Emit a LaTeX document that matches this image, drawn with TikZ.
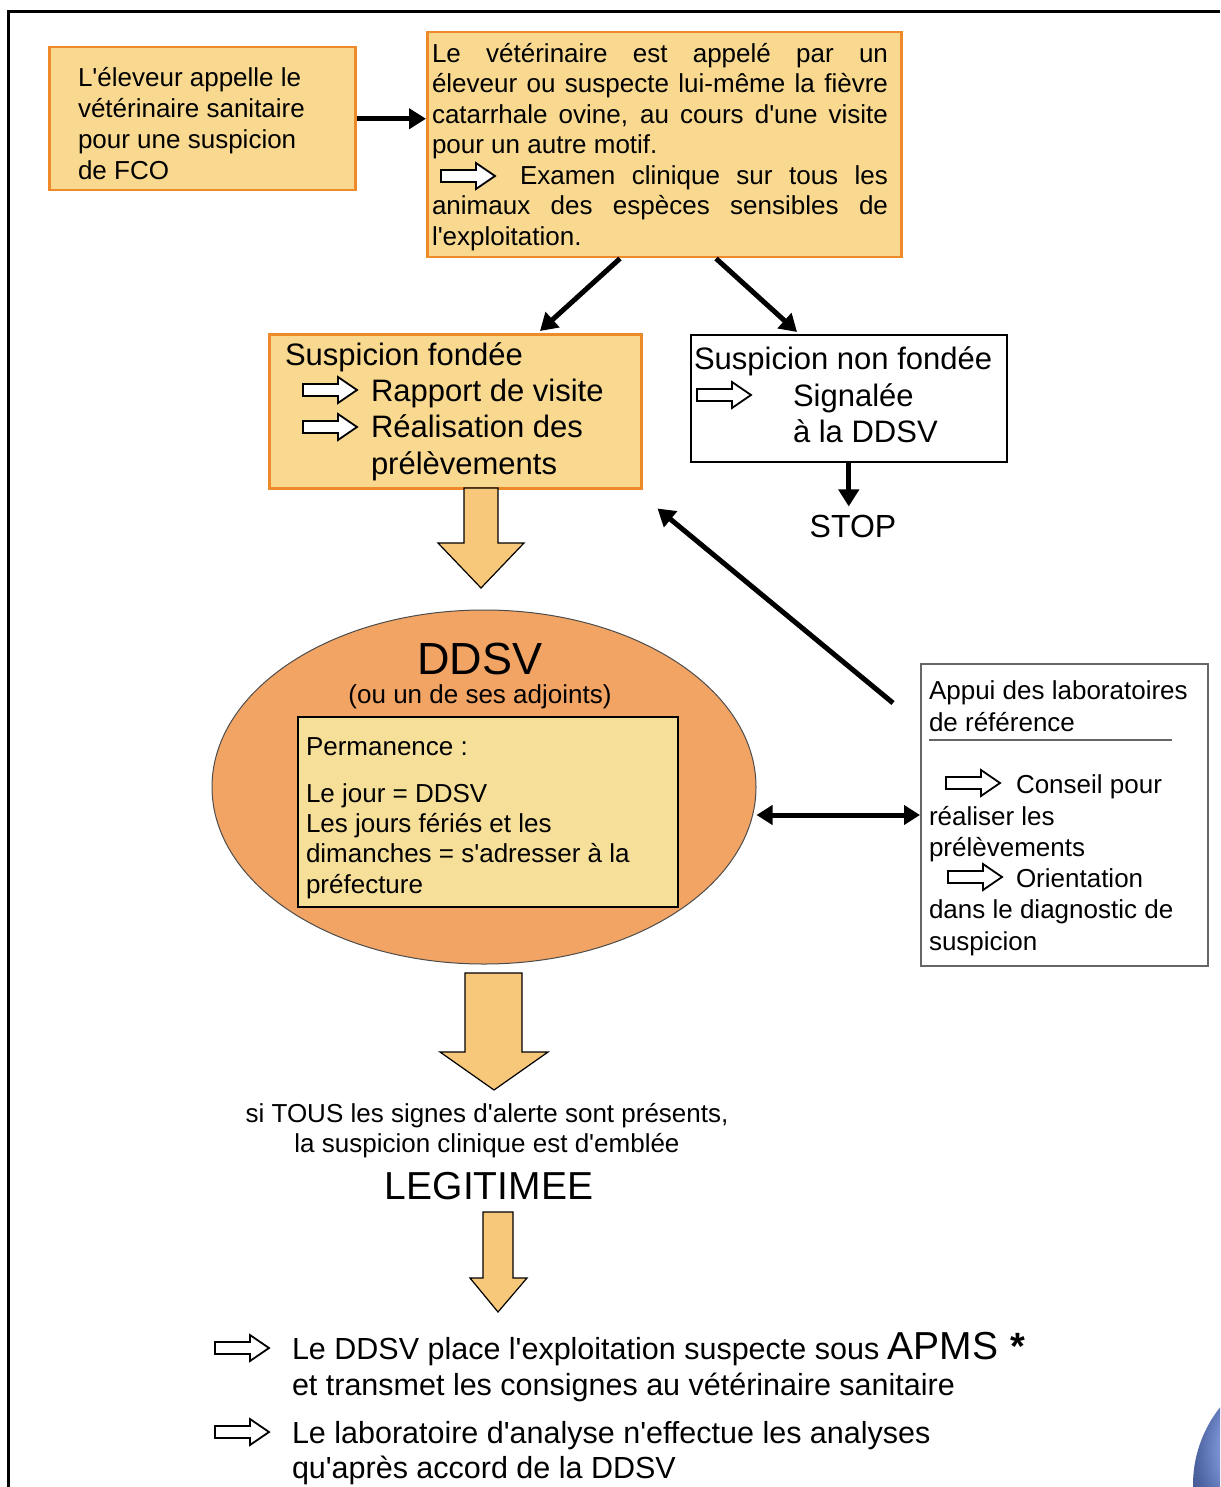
\documentclass[tikz,border=0pt]{standalone}
\usepackage{fontspec}
\setmainfont{Liberation Sans}[Ligatures=TeXOff]
\usetikzlibrary{arrows.meta,shapes.geometric}
\definecolor{boxfill}{HTML}{F9D98F}
\definecolor{boxline}{HTML}{EE8A2A}
\definecolor{ellfill}{HTML}{F2A465}
\definecolor{innerfill}{HTML}{F6DF98}
\definecolor{fatfill}{HTML}{F7C77A}
\definecolor{ballblue}{HTML}{6F8FE8}
\newcommand\setfs[2]{\fontsize{#1}{#2}\selectfont}
\tikzset{
  obox/.style={draw=boxline, line width=2.5pt, fill=boxfill, anchor=north west, inner sep=0pt},
  wbox/.style={draw=black, line width=1.5pt, fill=white, anchor=north west, inner sep=0pt},
  txt/.style={inner sep=0pt, outer sep=0pt, align=left, anchor=north west},
  blk/.style={line width=5pt, -{Triangle[length=17pt,width=20pt]}},
  dblk/.style={line width=5pt, {Triangle[length=16pt,width=19pt]}-{Triangle[length=16pt,width=19pt]}},
  fat/.style={draw=black, line width=1.2pt, fill=fatfill, line join=miter},
  harrow/.pic={\draw[line width=1.8pt, fill=white, line join=miter]
     (0,-6) -- (35,-6) -- (35,-13) -- (54,0) -- (35,13) -- (35,6) -- (0,6) -- cycle;}
}
\begin{document}
\begin{tikzpicture}[x=1pt,y=-1pt]
\useasboundingbox (0,0) rectangle (1220,1487);
% frame
\draw[line width=3pt] (8,1487) -- (8,12) -- (1220,12);
% blue decoration
\begin{scope}
\clip (0,0) rectangle (1220,1487);
\shade[ball color=ballblue] (1318,1485) circle (125);
\end{scope}

% Box A
\node[obox, minimum width=306pt, minimum height=143pt] (A) at (48,46) {};
\node[txt, font=\setfs{26}{31}] (At) at (78,67)
  {L'éleveur appelle le\\vétérinaire sanitaire\\pour une suspicion\\de FCO};

% Box B
\node[obox, minimum width=474pt, minimum height=225pt] (B) at (426,31) {};
\node[txt, font=\setfs{26}{30.5}] (Bt) at (432,43)
  {\makebox[456pt][s]{Le vétérinaire est appelé par un}\\
   \makebox[456pt][s]{éleveur ou suspecte lui-même la fièvre}\\
   \makebox[456pt][s]{catarrhale ovine, au cours d'une visite}\\
   pour un autre motif.\\
   \hspace*{88pt}\makebox[368pt][s]{Examen clinique sur tous les}\\
   \makebox[456pt][s]{animaux des espèces sensibles de}\\
   l'exploitation.};
\pic (hB) at (441,176) {harrow};

% Box C
\node[obox, minimum width=372pt, minimum height=154pt] (C) at (268,333) {};
\node[txt, font=\setfs{31}{36.5}] (Ct1) at (285,343) {Suspicion fondée};
\node[txt, font=\setfs{31}{36.5}] (Ct2) at (371,379)
  {Rapport de visite\\Réalisation des\\prélèvements};
\pic (hC1) at (303,390) {harrow};
\pic (hC2) at (303,427) {harrow};

% Box D
\node[wbox, minimum width=316pt, minimum height=127pt] (D) at (690,334) {};
\node[txt, font=\setfs{31}{36}] (Dt1) at (694,347) {Suspicion non fondée};
\node[txt, font=\setfs{31}{36}] (Dt2) at (793,384) {Signalée\\à la DDSV};
\pic (hD) at (697,395) {harrow};
\node[inner sep=0pt, font=\setfs{32}{36}] (stop) at (853,526) {STOP};

% Ellipse DDSV
\node[ellipse, draw=black!70, line width=1pt, fill=ellfill,
      minimum width=544pt, minimum height=354pt, inner sep=0pt] (E) at (484,787) {};
\node[inner sep=0pt, font=\setfs{45}{50}] (ddsv) at (480,659) {DDSV};
\node[inner sep=0pt, font=\setfs{26}{30}] (adj) at (480,697) {(ou un de ses adjoints)};
\node[draw=black, line width=1.5pt, fill=innerfill, anchor=north west, inner sep=0pt,
      minimum width=380pt, minimum height=190pt] (P) at (297,716) {};
\node[txt, font=\setfs{26}{30.3}] (Pt) at (306,738)
  {Permanence :\\[16pt]Le jour = DDSV\\Les jours fériés et les\\dimanches = s'adresser à la\\préfecture};

% Lab box
\node[draw=black!60, line width=2pt, fill=white, anchor=north west, inner sep=0pt,
      minimum width=287pt, minimum height=302pt] (L) at (920,663) {};
\node[txt, font=\setfs{26}{31.3}] (Lt) at (929,681)
  {Appui des laboratoires\\de référence\\[31.3pt]
   \hspace*{87pt}Conseil pour\\réaliser les\\prélèvements\\
   \hspace*{87pt}Orientation\\dans le diagnostic de\\suspicion};
\draw[black!60, line width=1.5pt] ([xshift=9pt,yshift=-77pt]L.north west) -- ++(243,0);
\pic (hL1) at (946,783) {harrow};
\pic (hL2) at (948,877) {harrow};

% Lower texts
\node[inner sep=0pt, align=center, anchor=north, font=\setfs{26}{30}] (si) at (487,1103)
  {si TOUS les signes d'alerte sont présents,\\la suspicion clinique est d'emblée};
\node[inner sep=0pt, font=\setfs{39}{44}] (leg) at (489,1186) {LEGITIMEE};

\node[txt, font=\setfs{30.5}{36}] (b1) at (292,1332)
  {Le DDSV place l'exploitation suspecte sous {\setfs{39}{39}APMS} \hspace{4pt}{\setfs{38}{38}\bfseries *}\\
   et transmet les consignes au vétérinaire sanitaire};
\node[txt, font=\setfs{30.5}{35}] (b2) at (292,1421)
  {Le laboratoire d'analyse n'effectue les analyses\\qu'après accord de la DDSV};
\pic (hb1) at (215,1348) {harrow};
\pic (hb2) at (215,1432) {harrow};

% fat arrows
\draw[fat] (464,488) -- (498,488) -- (498,543) -- (524,543) -- (481,588) -- (438,543) -- (464,543) -- cycle;
\draw[fat] (465,973) -- (522,973) -- (522,1052) -- (548,1052) -- (494,1090) -- (440,1052) -- (465,1052) -- cycle;
\draw[fat] (483,1212) -- (513,1212) -- (513,1278) -- (527,1278) -- (498,1312) -- (470,1278) -- (483,1278) -- cycle;

% black connectors
\draw[blk] (A.east) -- (A.east -| B.west);
\draw[blk] ([xshift=194pt]B.south west) -- ([xshift=272pt,yshift=2pt]C.north west);
\draw[blk] ([xshift=290pt]B.south west) -- ([xshift=107pt,yshift=2pt]D.north west);
\draw[blk, shorten >=8pt] (D.south) -- (D.south |- stop.north);
\draw[blk] ([xshift=-27pt,yshift=-40pt]L.north west) -- ([xshift=15pt,yshift=-19pt]C.south east);
\draw[dblk] (E.east |- L.west) -- (L.west);
\end{tikzpicture}
\end{document}
